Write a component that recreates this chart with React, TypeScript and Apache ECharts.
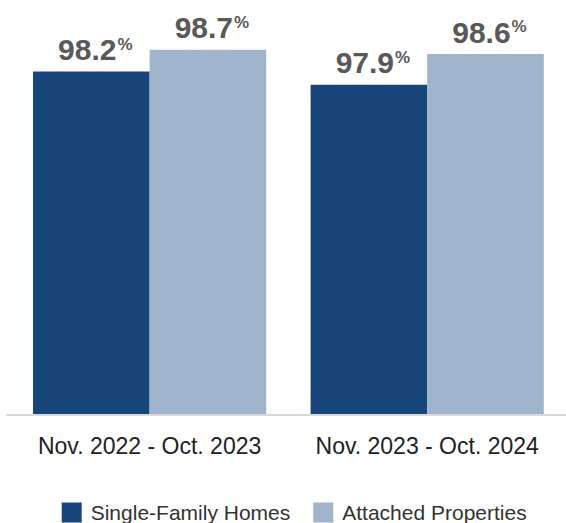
import React, { useEffect, useRef } from "react";
import * as echarts from "echarts";

const categories = ["Nov. 2022 - Oct. 2023", "Nov. 2023 - Oct. 2024"];
const seriesNames = ["Single-Family Homes", "Attached Properties"];
const singleFamily = [98.2, 97.9];
const attached = [98.7, 98.6];
const colors = ["#17457a", "#a0b4cc"];

export default function App() {
  const ref = useRef<HTMLDivElement>(null);
  useEffect(() => {
    if (!ref.current) return;
    const chart = echarts.init(ref.current, undefined, { renderer: "svg" });
    const label = {
      show: true,
      position: "top",
      distance: 7,
      offset: [4, 0],
      formatter: "{a|{c}}{b|%}",
      rich: {
        a: {
          fontSize: 30,
          fontWeight: "bold",
          color: "#595959",
          fontFamily: "Liberation Sans, Arial, sans-serif",
          lineHeight: 30,
        },
        b: {
          fontSize: 17,
          fontWeight: "bold",
          color: "#595959",
          fontFamily: "Liberation Sans, Arial, sans-serif",
          lineHeight: 30,
          verticalAlign: "top",
          padding: [1, 0, 0, 1],
        },
      },
    };
    chart.setOption({
      animation: false,
      grid: { left: 10.8, width: 557.6, top: 36.5, height: 377.5 },
      xAxis: {
        type: "category",
        data: categories,
        axisLine: { show: false },
        axisTick: { show: false },
        axisLabel: {
          interval: 0,
          margin: 20,
          fontSize: 23,
          color: "#222222",
          fontFamily: "Liberation Sans, Arial, sans-serif",
        },
      },
      yAxis: { type: "value", min: 90.4, max: 99, show: false },
      legend: {
        left: 56.7,
        top: 497,
        itemWidth: 20,
        itemHeight: 20,
        itemGap: 23,
        icon: "rect",
        textStyle: {
          fontSize: 21,
          color: "#333333",
          fontFamily: "Liberation Sans, Arial, sans-serif",
          padding: [0, 0, 0, 4],
        },
        data: seriesNames,
      },
      graphic: [
        {
          type: "line",
          shape: { x1: 6, y1: 415, x2: 566, y2: 415 },
          style: { stroke: "#d9d9d9", lineWidth: 2 },
          z: 0,
        },
      ],
      series: [
        {
          name: seriesNames[0],
          type: "bar",
          data: singleFamily,
          itemStyle: { color: colors[0] },
          barGap: "0%",
          barCategoryGap: "16%",
          label,
          z: 3,
        },
        {
          name: seriesNames[1],
          type: "bar",
          data: attached,
          itemStyle: { color: colors[1] },
          barGap: "0%",
          barCategoryGap: "16%",
          label,
          z: 3,
        },
      ],
    });
    return () => chart.dispose();
  }, []);
  return (
    <div
      ref={ref}
      style={{ position: "absolute", left: 0, top: 0, width: 566, height: 523 }}
    />
  );
}
